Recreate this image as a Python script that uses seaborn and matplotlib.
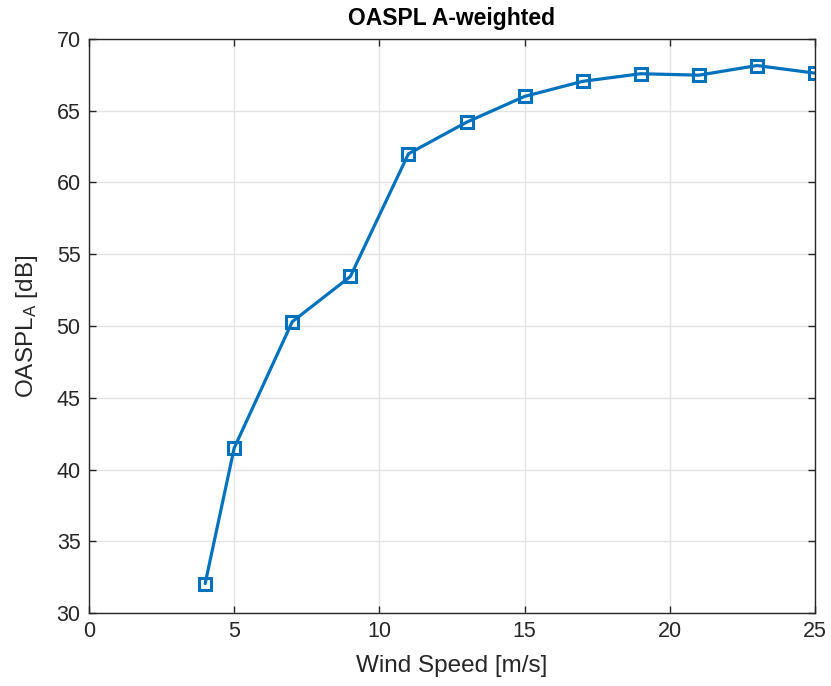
import matplotlib
matplotlib.use("Agg")
import matplotlib.pyplot as plt
import seaborn as sns
import pandas as pd

wind_speed = [4, 5, 7, 9, 11, 13, 15, 17, 19, 21, 23, 25]
oaspl_a = [32.05, 41.5, 50.3, 53.45, 62.0, 64.2, 66.0, 67.05, 67.58, 67.48, 68.15, 67.62]
x_ticks = [0, 5, 10, 15, 20, 25]
y_ticks = [30, 35, 40, 45, 50, 55, 60, 65, 70]

sns.set_theme(style="white")
plt.rcParams['font.family'] = ['Liberation Sans', 'DejaVu Sans']
plt.rcParams['mathtext.fontset'] = 'custom'
plt.rcParams['mathtext.rm'] = 'Liberation Sans'
plt.rcParams['mathtext.it'] = 'Liberation Sans'

df = pd.DataFrame({"ws": wind_speed, "L": oaspl_a})

fig = plt.figure(figsize=(8.31, 6.86), dpi=100)
ax = fig.add_axes([89/831, 73/686, (815-89)/831, (613-39)/686])

sns.lineplot(data=df, x="ws", y="L", ax=ax, color="#0072BD", linewidth=2.3,
             marker="s", markersize=8, markerfacecolor="none",
             markeredgecolor="#0072BD", markeredgewidth=2.2)

ax.set_xlim(0, 25)
ax.set_ylim(30, 70)
ax.set_xticks(x_ticks)
ax.set_yticks(y_ticks)
ax.grid(True, color="#e3e3e3", linewidth=1)
ax.set_axisbelow(True)
dark = "#262626"
for s in ax.spines.values():
    s.set_visible(True)
    s.set_color(dark)
    s.set_linewidth(1)
ax.tick_params(direction="in", length=5, width=1, color=dark, labelcolor=dark,
               labelsize=15.5, top=True, right=True, bottom=True, left=True, pad=6)
ax.set_xlabel("Wind Speed [m/s]", fontsize=17.5, color=dark, labelpad=9)
ax.set_ylabel(r"OASPL$_\mathregular{A}$ [dB]", fontsize=17.5, color=dark, labelpad=12)
ax.set_title("OASPL A-weighted", fontsize=16.5, fontweight="bold", color="black", pad=10)

fig.savefig("out.png", dpi=100)
